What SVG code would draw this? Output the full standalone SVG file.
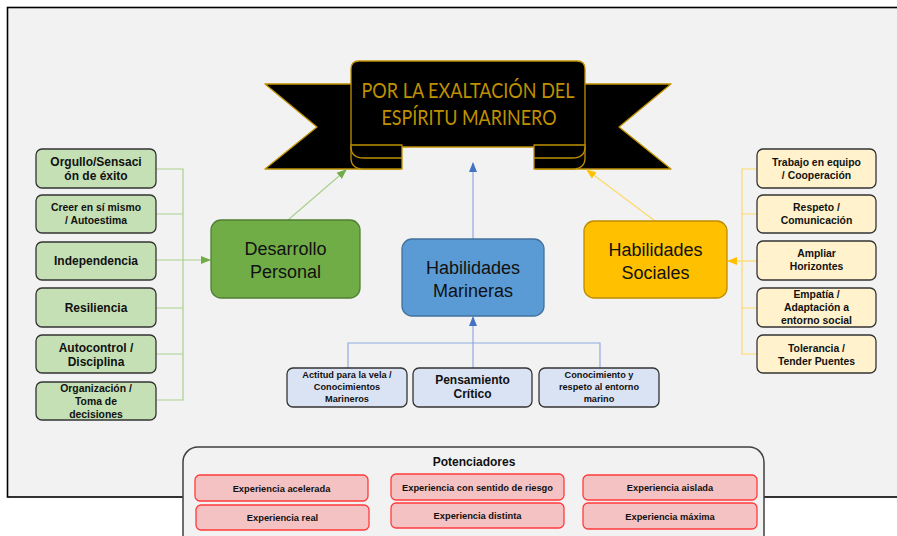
<svg xmlns="http://www.w3.org/2000/svg" width="897" height="536" viewBox="0 0 897 536">
<defs>
<style>
.t{font-family:"Liberation Sans",Arial,sans-serif;fill:#111;text-anchor:middle}
.b{font-weight:bold}
.main{font-size:18px}
.lg{fill:#C5E0B4;stroke:#333;stroke-width:1.3}
.ly{fill:#FFF2CC;stroke:#333;stroke-width:1.3}
.lb{fill:#DAE3F3;stroke:#333;stroke-width:1.3}
.rd{fill:#F4C2C2;stroke:#FF3B3B;stroke-width:1.3}
.gc{stroke:#A9D18E;stroke-width:1.2;fill:none}
.yc{stroke:#FFD966;stroke-width:1.2;fill:none}
.bc{stroke:#8FAADC;stroke-width:1.2;fill:none}
.ban{fill:#000;stroke:#BF9000;stroke-width:1.3;stroke-linejoin:round}
.bt{font-family:Lato,"Liberation Sans",sans-serif;font-size:22px;fill:#BF9000;text-anchor:middle}
</style>
<marker id="ag" markerWidth="10" markerHeight="10" refX="9" refY="5" orient="auto" markerUnits="userSpaceOnUse"><path d="M0,1 L10,5 L0,9 Z" fill="#70AD47"/></marker>
<marker id="ab" markerWidth="10" markerHeight="10" refX="9" refY="5" orient="auto" markerUnits="userSpaceOnUse"><path d="M0,1 L10,5 L0,9 Z" fill="#4472C4"/></marker>
<marker id="ay" markerWidth="10" markerHeight="10" refX="9" refY="5" orient="auto" markerUnits="userSpaceOnUse"><path d="M0,1 L10,5 L0,9 Z" fill="#FFC000"/></marker>
</defs>
<rect x="0" y="0" width="897" height="536" fill="#fff"/>
<rect x="7.5" y="7.5" width="900" height="489.5" fill="#F2F2F2" stroke="#000" stroke-width="1.6"/>

<g id="banner">
<path class="ban" d="M265,84 L400,84 L400,169 L265,169 L317,127 Z"/>
<path class="ban" d="M671,84 L536,84 L536,169 L671,169 L619,127 Z"/>
<path class="ban" d="M351,69 Q351,61 359,61 L577,61 Q585,61 585,69 L585,147 L351,147 Z"/>
<path class="ban" d="M351,145 L402,145 L402,169 L364,169 Q351,169 351,158 Z"/>
<path d="M351,147 Q351,158 364,158 L402,158" fill="none" stroke="#BF9000" stroke-width="1.3"/>
<path class="ban" d="M585,145 L534,145 L534,169 L572,169 Q585,169 585,158 Z"/>
<path d="M585,147 Q585,158 572,158 L534,158" fill="none" stroke="#BF9000" stroke-width="1.3"/>
<text class="bt" x="468" y="98" textLength="213" lengthAdjust="spacingAndGlyphs">POR LA EXALTACIÓN DEL</text>
<text class="bt" x="469" y="125" textLength="175" lengthAdjust="spacingAndGlyphs">ESPÍRITU MARINERO</text>
</g>

<g id="connectors">
<line class="gc" x1="288" y1="220" x2="346" y2="170" marker-end="url(#ag)"/>
<line class="bc" x1="473" y1="239" x2="473" y2="163" marker-end="url(#ab)"/>
<line class="yc" x1="655" y1="221" x2="587" y2="170" marker-end="url(#ay)"/>
<path class="gc" d="M156,169 H183 V400 H156 M156,214 H183 M156,308 H183 M156,354 H183"/>
<line class="gc" x1="156" y1="260" x2="210" y2="260" marker-end="url(#ag)"/>
<path class="yc" d="M757,169 H742 V354 H757 M757,214 H742 M757,308 H742"/>
<line class="yc" x1="757" y1="261" x2="728" y2="261" marker-end="url(#ay)"/>
<path class="bc" d="M348,368 V343 H600 V368"/>
<line class="bc" x1="473" y1="368" x2="473" y2="317" marker-end="url(#ab)"/>
</g>

<g id="desarrollo">
<rect x="211" y="220" width="149" height="78" rx="10" fill="#70AD47" stroke="#507E32" stroke-width="1.3"/>
<text class="t main" x="285.5" y="255">Desarrollo</text>
<text class="t main" x="285.5" y="278">Personal</text>
</g>
<g id="marineras">
<rect x="402" y="239" width="142" height="77" rx="10" fill="#5B9BD5" stroke="#41719C" stroke-width="1.3"/>
<text class="t main" x="473" y="274">Habilidades</text>
<text class="t main" x="473" y="297">Marineras</text>
</g>
<g id="sociales">
<rect x="584" y="221" width="143" height="77" rx="10" fill="#FFC000" stroke="#BC8C00" stroke-width="1.3"/>
<text class="t main" x="655.5" y="256">Habilidades</text>
<text class="t main" x="655.5" y="279">Sociales</text>
</g>

<g id="orgullo"><rect class="lg" x="36" y="149" width="120" height="39" rx="6"/>
<text class="t b" font-size="12" x="96" y="166">Orgullo/Sensaci</text><text class="t b" font-size="12" x="96" y="180">ón de éxito</text></g>
<g id="creer"><rect class="lg" x="36" y="195" width="120" height="38" rx="6"/>
<text class="t b" font-size="10.4" x="96" y="211">Creer en sí mismo</text><text class="t b" font-size="10.4" x="96" y="224">/ Autoestima</text></g>
<g id="independencia"><rect class="lg" x="36" y="242" width="120" height="38" rx="6"/>
<text class="t b" font-size="12" x="96" y="265">Independencia</text></g>
<g id="resiliencia"><rect class="lg" x="36" y="288" width="120" height="39" rx="6"/>
<text class="t b" font-size="12" x="96" y="312">Resiliencia</text></g>
<g id="autocontrol"><rect class="lg" x="36" y="335" width="120" height="38" rx="6"/>
<text class="t b" font-size="12" x="96" y="352">Autocontrol /</text><text class="t b" font-size="12" x="96" y="366">Disciplina</text></g>
<g id="organizacion"><rect class="lg" x="36" y="382" width="120" height="38" rx="6"/>
<text class="t b" font-size="10.4" x="96" y="392">Organización  /</text><text class="t b" font-size="10.4" x="96" y="405">Toma de</text><text class="t b" font-size="10.4" x="96" y="418">decisiones</text></g>

<g id="trabajo"><rect class="ly" x="757" y="149" width="119" height="39" rx="6"/>
<text class="t b" font-size="10.4" x="816.5" y="166">Trabajo en equipo</text><text class="t b" font-size="10.4" x="816.5" y="179">/ Cooperación</text></g>
<g id="respeto"><rect class="ly" x="757" y="195" width="119" height="38" rx="6"/>
<text class="t b" font-size="10.4" x="816.5" y="211">Respeto  /</text><text class="t b" font-size="10.4" x="816.5" y="224">Comunicación</text></g>
<g id="ampliar"><rect class="ly" x="757" y="241" width="119" height="39" rx="6"/>
<text class="t b" font-size="10.4" x="816.5" y="257">Ampliar</text><text class="t b" font-size="10.4" x="816.5" y="270">Horizontes</text></g>
<g id="empatia"><rect class="ly" x="757" y="288" width="119" height="39" rx="6"/>
<text class="t b" font-size="10.4" x="816.5" y="298">Empatía  /</text><text class="t b" font-size="10.4" x="816.5" y="311">Adaptación  a</text><text class="t b" font-size="10.4" x="816.5" y="324">entorno social</text></g>
<g id="tolerancia"><rect class="ly" x="757" y="335" width="119" height="38" rx="6"/>
<text class="t b" font-size="10.4" x="816.5" y="352">Tolerancia  /</text><text class="t b" font-size="10.4" x="816.5" y="365">Tender Puentes</text></g>

<g id="actitud"><rect class="lb" x="287" y="368" width="120" height="39" rx="6"/>
<text class="t b" font-size="9.2" x="347" y="378">Actitud para la vela /</text><text class="t b" font-size="9.2" x="347" y="390">Conocimientos</text><text class="t b" font-size="9.2" x="347" y="402">Marineros</text></g>
<g id="pensamiento"><rect class="lb" x="413" y="368" width="119" height="39" rx="6"/>
<text class="t b" font-size="12" x="472.5" y="384">Pensamiento</text><text class="t b" font-size="12" x="472.5" y="398">Crítico</text></g>
<g id="conocimiento"><rect class="lb" x="539" y="368" width="120" height="39" rx="6"/>
<text class="t b" font-size="9.2" x="599" y="378">Conocimiento y</text><text class="t b" font-size="9.2" x="599" y="390">respeto al entorno</text><text class="t b" font-size="9.2" x="599" y="402">marino</text></g>

<g id="potenciadores">
<rect x="183" y="447" width="581" height="110" rx="15" fill="#F2F2F2" stroke="#404040" stroke-width="1.5"/>
<text class="t b" font-size="12" x="474" y="466">Potenciadores</text>
<rect class="rd" x="195" y="475" width="173" height="26" rx="5"/>
<text class="t b" font-size="9.3" x="281.5" y="491.5">Experiencia acelerada</text>
<rect class="rd" x="196" y="505" width="173" height="25" rx="5"/>
<text class="t b" font-size="9.3" x="282.5" y="521">Experiencia real</text>
<rect class="rd" x="391" y="474" width="173" height="26" rx="5"/>
<text class="t b" font-size="9.3" x="477.5" y="490.5">Experiencia con sentido de riesgo</text>
<rect class="rd" x="391" y="503" width="173" height="25" rx="5"/>
<text class="t b" font-size="9.3" x="477.5" y="519">Experiencia distinta</text>
<rect class="rd" x="583" y="475" width="174" height="25" rx="5"/>
<text class="t b" font-size="9.3" x="670" y="491">Experiencia aislada</text>
<rect class="rd" x="583" y="503" width="174" height="26" rx="5"/>
<text class="t b" font-size="9.3" x="670" y="519.5">Experiencia máxima</text>
</g>
</svg>
